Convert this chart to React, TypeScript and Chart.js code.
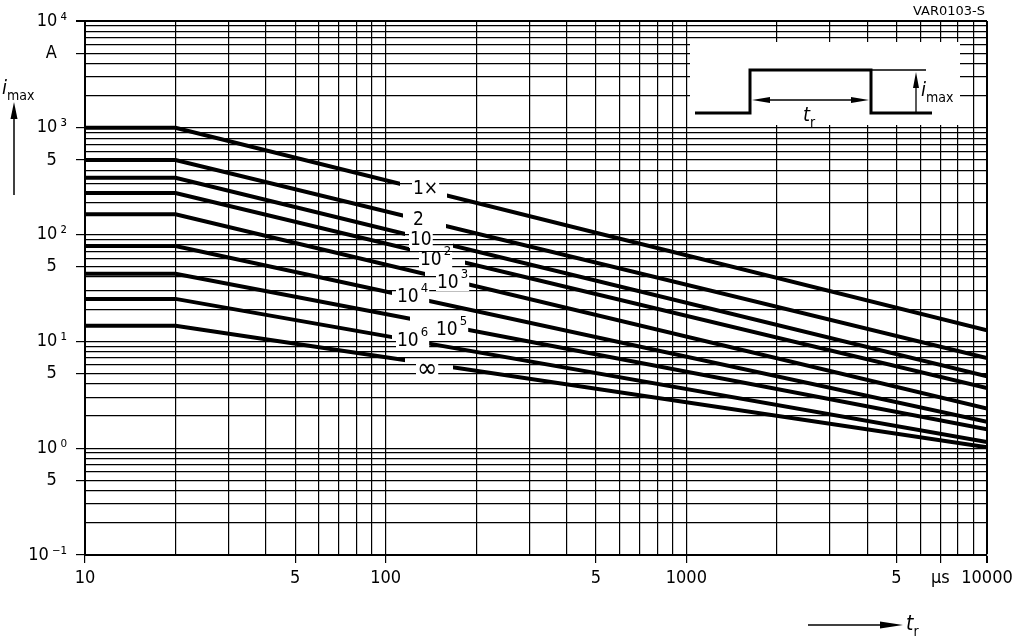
import React, { useEffect, useRef } from "react";
import { Chart, registerables } from "chart.js";

Chart.register(...registerables);

const FONT = '"DejaVu Sans Condensed", "Liberation Sans Narrow", "Liberation Sans", "DejaVu Sans", sans-serif';

// Pulse duration t_r (µs) at the knots of each curve
const pulseDurations = [10, 20, 10000];
// Maximum surge current i_max (A) for each number of pulses
const curve1x = [1000, 1000, 12.7];
const curve2 = [500, 500, 7.0];
const curve10 = [340, 340, 4.7];
const curve1e2 = [245, 245, 3.65];
const curve1e3 = [155, 155, 2.35];
const curve1e4 = [78, 78, 1.77];
const curve1e5 = [43, 43, 1.5];
const curve1e6 = [25, 25, 1.14];
const curveInf = [14, 14, 1.02];
const curveNames = ["1×", "2", "10", "10²", "10³", "10⁴", "10⁵", "10⁶", "∞"];
const allCurves = [curve1x, curve2, curve10, curve1e2, curve1e3, curve1e4, curve1e5, curve1e6, curveInf];

const xTickValues = [10, 50, 100, 500, 1000, 5000, 7000, 10000];
const xTickLabels = ["10", "5", "100", "5", "1000", "5", "µs", "10000"];
const yTickValues = [0.1, 0.5, 1, 5, 10, 50, 100, 500, 1000, 5000, 10000];
const yTickLabels = ["10\u2009⁻¹", "5  ", "10\u2009⁰", "5  ", "10\u2009¹", "5  ", "10\u2009²", "5  ", "10\u2009³", "A  ", "10\u2009⁴"];
const gridMantissas = [1, 2, 3, 4, 5, 6, 7, 8, 9];

// Label layout (pixels): base text, exponent, left x, centre y, gap in curve [x1, x2]
const curveLabelLayout = [
  { base: "1×", exp: "", x: 413, y: 189, size: 19, gap: [400, 447] },
  { base: "2", exp: "", x: 413, y: 220, size: 19, gap: [403, 446] },
  { base: "10", exp: "", x: 410, y: 240, size: 19, gap: [405, 453] },
  { base: "10", exp: "2", x: 420, y: 260, size: 19, gap: [410, 465] },
  { base: "10", exp: "3", x: 437, y: 283, size: 19, gap: [425, 465] },
  { base: "10", exp: "4", x: 397, y: 297, size: 19, gap: [392, 428] },
  { base: "10", exp: "5", x: 436, y: 330, size: 19, gap: [410, 463] },
  { base: "10", exp: "6", x: 397, y: 341, size: 19, gap: [392, 428] },
  { base: "∞", exp: "", x: 417, y: 370, size: 27, gap: [405, 453] },
];

const near = (a: number, b: number) => Math.abs(Math.log10(a) - Math.log10(b)) < 1e-6;
const labelFor = (v: number, vals: number[], labs: string[]) => {
  for (let i = 0; i < vals.length; i++) if (near(v, vals[i])) return labs[i];
  return "";
};
const gridValues = (minExp: number, maxExp: number) => {
  const out: number[] = [];
  for (let e = minExp; e < maxExp; e++)
    for (const m of gridMantissas) out.push(+(m * Math.pow(10, e)).toPrecision(6));
  out.push(+Math.pow(10, maxExp).toPrecision(6));
  return out;
};

function arrowHead(ctx: CanvasRenderingContext2D, tipX: number, tipY: number, baseX: number, baseY: number, half: number) {
  const dx = tipX - baseX, dy = tipY - baseY;
  const len = Math.hypot(dx, dy);
  const nx = -dy / len, ny = dx / len;
  ctx.beginPath();
  ctx.moveTo(tipX, tipY);
  ctx.lineTo(baseX + nx * half, baseY + ny * half);
  ctx.lineTo(baseX - nx * half, baseY - ny * half);
  ctx.closePath();
  ctx.fill();
}

function line(ctx: CanvasRenderingContext2D, pts: number[][], w: number) {
  ctx.lineWidth = w;
  ctx.beginPath();
  ctx.moveTo(pts[0][0], pts[0][1]);
  for (let i = 1; i < pts.length; i++) ctx.lineTo(pts[i][0], pts[i][1]);
  ctx.stroke();
}

function subText(ctx: CanvasRenderingContext2D, main: string, sub: string, x: number, y: number, size: number) {
  ctx.font = `italic ${size}px ${FONT}`;
  ctx.textAlign = "left";
  ctx.textBaseline = "alphabetic";
  ctx.fillText(main, x, y);
  const w = ctx.measureText(main).width;
  ctx.font = `${Math.round(size * 0.68)}px ${FONT}`;
  ctx.fillText(sub, x + w, y + size * 0.3);
}

const decor = {
  id: "decor",
  beforeDatasetDraw(chart: any, args: any) {
    const l = curveLabelLayout[args.index];
    if (!l) return;
    const ctx = chart.ctx;
    ctx.save();
    ctx.beginPath();
    ctx.rect(0, 0, chart.width, chart.height);
    ctx.rect(l.gap[0], 0, l.gap[1] - l.gap[0], chart.height);
    ctx.clip("evenodd");
  },
  afterDatasetDraw(chart: any, args: any) {
    if (curveLabelLayout[args.index]) chart.ctx.restore();
  },
  afterDatasetsDraw(chart: any) {
    const ctx: CanvasRenderingContext2D = chart.ctx;
    ctx.save();
    ctx.fillStyle = "#000";
    ctx.strokeStyle = "#000";

    // curve labels
    for (const l of curveLabelLayout) {
      ctx.font = `${l.size}px ${FONT}`;
      const w = ctx.measureText(l.base).width;
      ctx.font = `${Math.round(l.size * 0.68)}px ${FONT}`;
      const we = l.exp ? ctx.measureText(l.exp).width + 2 : 0;
      ctx.fillStyle = "#fff";
      ctx.fillRect(l.x - 1, l.y - 8, w + we + 2, 16);
      ctx.fillStyle = "#000";
      ctx.textAlign = "left";
      ctx.textBaseline = "middle";
      ctx.font = `${l.size}px ${FONT}`;
      ctx.fillText(l.base, l.x, l.y);
      if (l.exp) {
        ctx.font = `${Math.round(l.size * 0.68)}px ${FONT}`;
        ctx.fillText(l.exp, l.x + w + 2, l.y - l.size * 0.42);
      }
    }

    // inset pulse diagram
    ctx.fillStyle = "#fff";
    ctx.fillRect(690, 42, 270, 83);
    ctx.fillStyle = "#000";
    ctx.lineJoin = "miter";
    line(ctx, [[695, 113], [750, 113], [750, 70], [871, 70], [871, 113], [932, 113]], 3);
    line(ctx, [[871, 70], [926, 70]], 1.3);
    line(ctx, [[916, 113], [916, 86]], 1.3);
    arrowHead(ctx, 916, 72, 916, 88, 3);
    line(ctx, [[765, 100], [856, 100]], 1.3);
    arrowHead(ctx, 752, 100, 770, 100, 3);
    arrowHead(ctx, 869, 100, 851, 100, 3);
    subText(ctx, "t", "r", 803, 121, 20);
    subText(ctx, "i", "max", 921, 96, 20);

    // y-axis title with arrow
    subText(ctx, "i", "max", 2, 94, 20);
    line(ctx, [[14, 195], [14, 112]], 1.5);
    arrowHead(ctx, 14, 102, 14, 119, 3.5);

    // x-axis title with arrow
    line(ctx, [[808, 625], [884, 625]], 1.5);
    arrowHead(ctx, 903, 625, 880, 625, 3.5);
    subText(ctx, "t", "r", 906, 630, 21);

    // drawing id
    ctx.font = `13px "DejaVu Sans", sans-serif`;
    ctx.textAlign = "right";
    ctx.textBaseline = "alphabetic";
    ctx.fillText("VAR0103-S", 985, 15);
    ctx.restore();
  },
};

export default function App() {
  const ref = useRef<HTMLCanvasElement | null>(null);
  useEffect(() => {
    if (!ref.current) return;
    const datasets = allCurves.map((c, i) => ({
      label: curveNames[i],
      data: pulseDurations.map((t, k) => ({ x: t, y: c[k] })),
      borderColor: "#000",
      backgroundColor: "#000",
      borderWidth: 4,
      pointRadius: 0,
      tension: 0,
      fill: false,
      borderCapStyle: "butt" as const,
    }));
    const chart = new Chart(ref.current, {
      type: "line",
      data: { datasets },
      plugins: [decor],
      options: {
        responsive: false,
        animation: false,
        devicePixelRatio: 1,
        layout: { padding: { top: 21, right: 37, left: 0, bottom: 0 } },
        plugins: { legend: { display: false }, tooltip: { enabled: false } },
        scales: {
          x: {
            type: "logarithmic",
            min: 10,
            max: 10000,
            afterBuildTicks: (s: any) => {
              s.ticks = gridValues(1, 4).map((v) => ({ value: v }));
            },
            afterFit: (s: any) => {
              s.height = 87;
            },
            ticks: {
              autoSkip: false,
              maxRotation: 0,
              minRotation: 0,
              color: "#000",
              padding: 5,
              font: { family: FONT, size: 18 },
              callback: (v: any) => labelFor(Number(v), xTickValues, xTickLabels),
            },
            grid: {
              color: "#000",
              lineWidth: (c: any) => (c.tick && near(c.tick.value, 10000) ? 2 : 1.2),
              tickLength: 8,
              tickColor: (c: any) => (c.tick && c.tick.label ? "#000" : "rgba(0,0,0,0)"),
            },
            border: { display: true, color: "#000", width: 2 },
          },
          y: {
            type: "logarithmic",
            min: 0.1,
            max: 10000,
            afterBuildTicks: (s: any) => {
              s.ticks = gridValues(-1, 4).map((v) => ({ value: v }));
            },
            afterFit: (s: any) => {
              s.width = 85;
            },
            ticks: {
              autoSkip: false,
              color: "#000",
              padding: 9,
              font: { family: FONT, size: 18 },
              callback: (v: any) => labelFor(Number(v), yTickValues, yTickLabels),
            },
            grid: {
              color: "#000",
              lineWidth: (c: any) => (c.tick && near(c.tick.value, 10000) ? 2 : 1.2),
              tickLength: 9,
              tickColor: (c: any) => (c.tick && c.tick.label ? "#000" : "rgba(0,0,0,0)"),
            },
            border: { display: true, color: "#000", width: 2 },
          },
        },
      },
    });
    return () => chart.destroy();
  }, []);
  return (
    <div style={{ position: "absolute", left: 0, top: 0, width: 1024, height: 642, background: "#fff" }}>
      <canvas ref={ref} width={1024} height={642} style={{ display: "block" }} />
    </div>
  );
}
